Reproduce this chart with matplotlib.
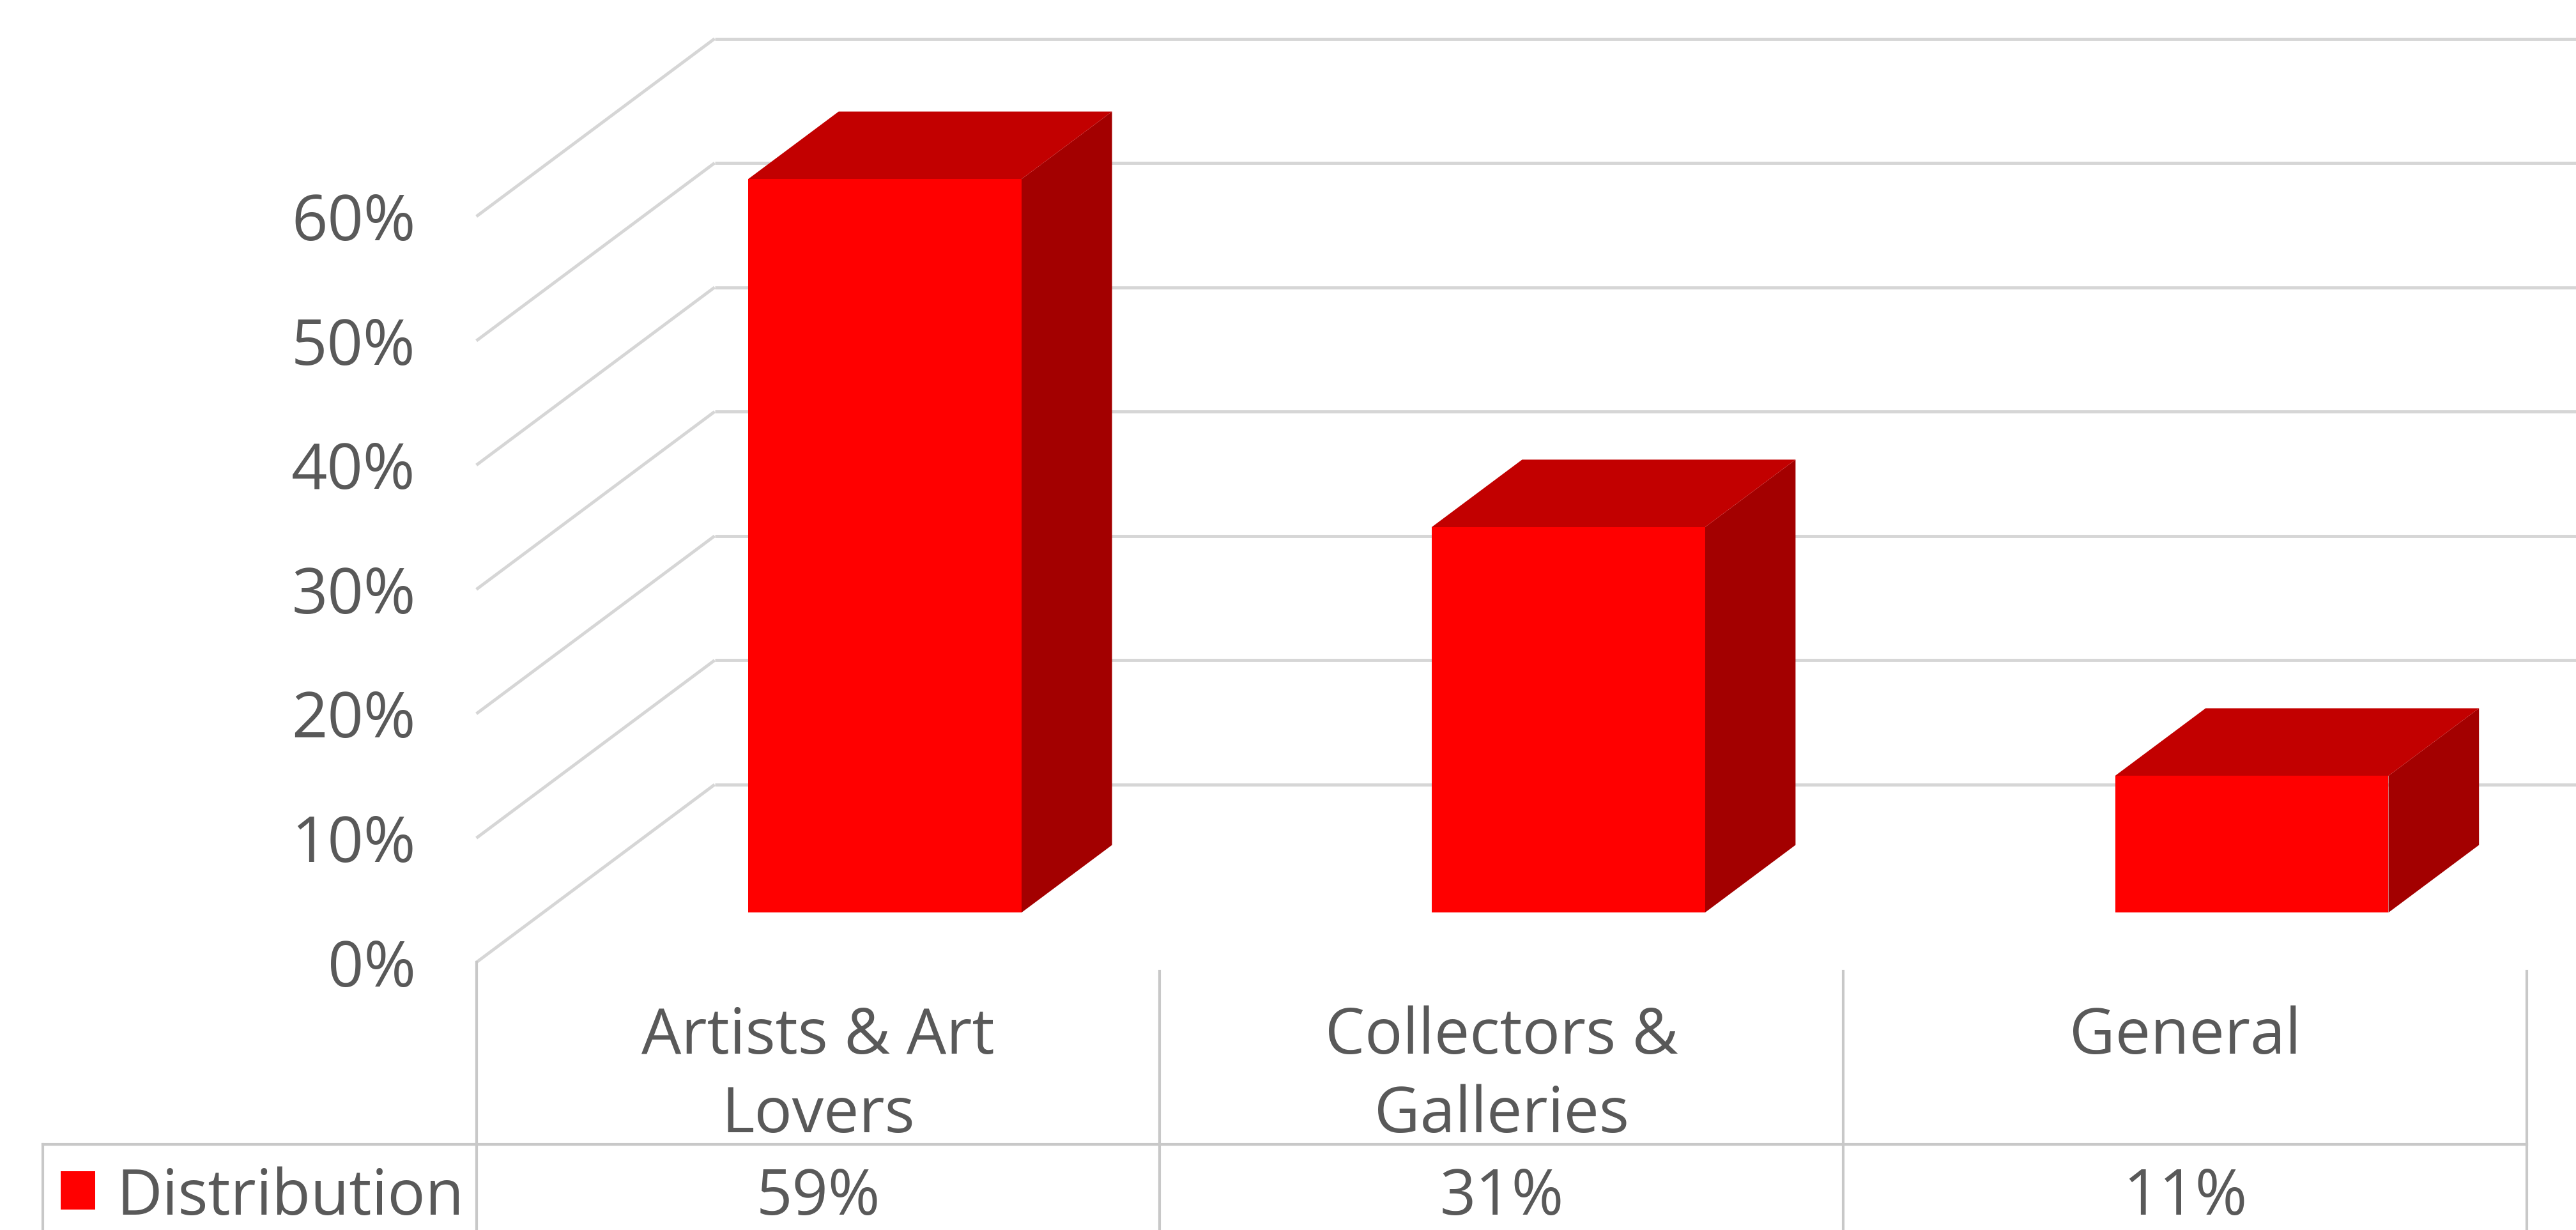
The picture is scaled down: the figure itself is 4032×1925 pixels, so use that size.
import matplotlib.pyplot as plt
from matplotlib.patches import Polygon, Rectangle

# data
categories = ["Artists & Art\nLovers", "Collectors &\nGalleries", "General"]
values = [59, 31, 11]
value_labels = ["59%", "31%", "11%"]
series_name = "Distribution"
yticks = [0, 10, 20, 30, 40, 50, 60]

# look
FRONT = "#ff0000"
TOP = "#c20000"
SIDE = "#a30000"
GRID = "#d6d6d6"
TABLE = "#c8c8c8"
TEXT = "#595959"
FS = 71
plt.rcParams['font.family'] = ['Open Sans', 'DejaVu Sans']

# oblique "3D" projection: depth d in [0, 1] shifts up and right
DX, DY = 0.3486, 14.3
BAR_W = 0.4
D0, D1 = 0.28, 0.66
TXT_DY = -0.6  # nudge text down to sit like the original


def proj(x, y, d):
    return x + d * DX, y + d * DY


fig = plt.figure(figsize=(40.32, 19.25), dpi=100)
ax = fig.add_axes([0, 0, 1, 1])
ax.set_xlim(-0.697, 3.072)
ax.set_ylim(-21.53, 77.41)
ax.axis('off')

n = len(categories)

# walls: gridlines on the back wall and the left side wall
for t in yticks:
    bx, by = proj(0, t, 1)
    ex, ey = proj(n, t, 1)
    ax.plot([0, bx], [t, by], color=GRID, lw=3.5, zorder=1, solid_capstyle='butt')
    ax.plot([bx, ex], [by, ey], color=GRID, lw=3.5, zorder=1, solid_capstyle='butt')
    ax.text(-0.0889, t + TXT_DY, f"{t}%", ha='right', va='center',
            fontsize=FS, color=TEXT)

# bars
for i, v in enumerate(values):
    x0 = i + 0.5 - BAR_W / 2
    x1 = i + 0.5 + BAR_W / 2
    front = [proj(x0, 0, D0), proj(x1, 0, D0), proj(x1, v, D0), proj(x0, v, D0)]
    top = [proj(x0, v, D0), proj(x1, v, D0), proj(x1, v, D1), proj(x0, v, D1)]
    side = [proj(x1, 0, D0), proj(x1, 0, D1), proj(x1, v, D1), proj(x1, v, D0)]
    ax.add_patch(Polygon(side, closed=True, facecolor=SIDE, edgecolor='none', zorder=3))
    ax.add_patch(Polygon(top, closed=True, facecolor=TOP, edgecolor='none', zorder=3))
    ax.add_patch(Polygon(front, closed=True, facecolor=FRONT, edgecolor='none', zorder=4))

# data table under the chart
row_y = -14.66
left_x = -0.6346
ybot = ax.get_ylim()[0]
for k in range(n + 1):
    ax.plot([k, k], [0 if k == 0 else -0.7, ybot], color=TABLE, lw=3, zorder=2)
ax.plot([left_x, n], [row_y, row_y], color=TABLE, lw=3, zorder=2)
ax.plot([left_x, left_x], [row_y, ybot], color=TABLE, lw=3, zorder=2)

for i, (cat, lab) in enumerate(zip(categories, value_labels)):
    for j, line in enumerate(cat.split("\n")):
        ax.text(i + 0.5, -5.4 - 6.35 * j + TXT_DY, line, ha='center', va='center',
                fontsize=FS, color=TEXT)
    ax.text(i + 0.5, -18.36 + TXT_DY, lab, ha='center', va='center',
            fontsize=FS, color=TEXT)

ax.add_patch(Rectangle((-0.608, -19.9), 0.05, 3.1, facecolor=FRONT, edgecolor='none'))
ax.text(-0.5264, -18.36 + TXT_DY, series_name, ha='left', va='center',
        fontsize=FS, color=TEXT)

plt.savefig('out.png', dpi=100)
